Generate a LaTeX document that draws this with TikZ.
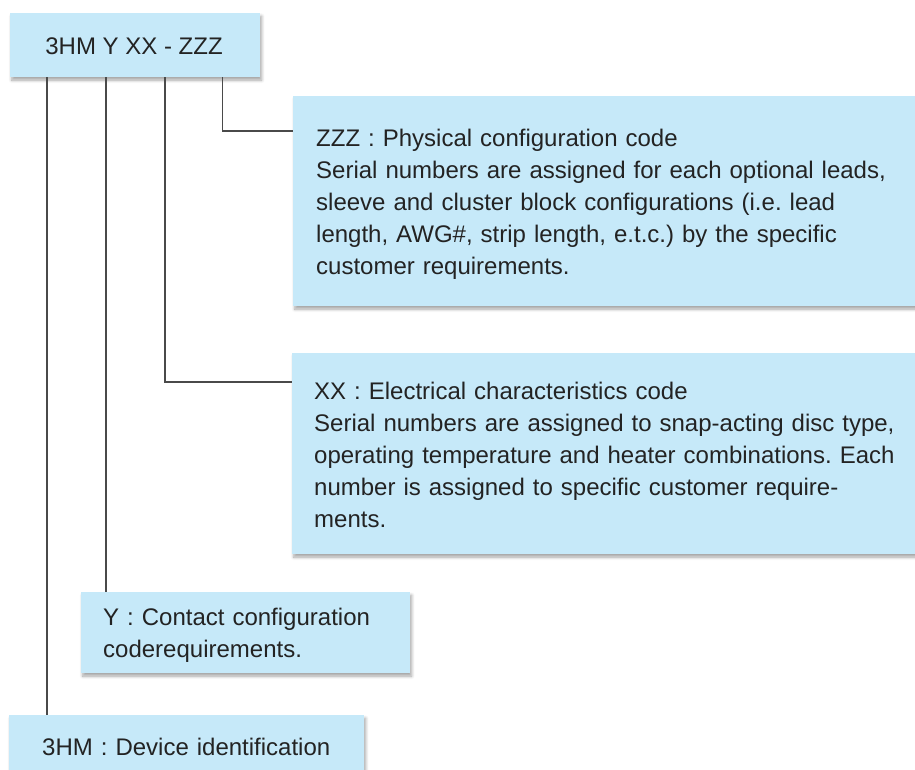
\documentclass[tikz,border=0pt]{standalone}
\usepackage{fontspec}
\setmainfont{Liberation Sans}
\usetikzlibrary{shadows.blur}
\definecolor{boxblue}{HTML}{C6E9F9}
\definecolor{linegrey}{HTML}{4A4A4A}
\definecolor{txt}{HTML}{232323}
\frenchspacing
\begin{document}
\begin{tikzpicture}[x=1pt,y=-1pt,
  codebox/.style={draw=none,fill=boxblue,rectangle,inner sep=0pt,anchor=north west,
    blur shadow={shadow xshift=1.5pt,shadow yshift=-3pt,shadow blur radius=3pt,shadow blur steps=6,shadow opacity=35}},
  codetext/.style={inner sep=0pt,anchor=base west,text=txt,align=left,text width=620pt,
    font=\fontsize{24}{32}\selectfont},
  conn/.style={draw=linegrey,line width=1.3pt}]
\useasboundingbox (0,0) rectangle (915,770);
% boxes
\node[codebox,minimum width=250pt,minimum height=64pt] (top) at (10,13) {};
\node[codebox,minimum width=650pt,minimum height=210pt] (zzz) at (293,96) {};
\node[codebox,minimum width=650pt,minimum height=201pt] (xx) at (292,353) {};
\node[codebox,minimum width=329pt,minimum height=81pt] (ybox) at (81,592) {};
\node[codebox,minimum width=355pt,minimum height=80pt] (dev) at (9,715) {};
% texts
\node[inner sep=0pt,anchor=base,text=txt,font=\fontsize{24}{32}\selectfont] (toptext) at (134,55) {3HM Y XX - ZZZ};
\node[codetext] (zzztext) at (316,147) {ZZZ : Physical configuration code\\
Serial numbers are assigned for each optional leads,\\
sleeve and cluster block configurations (i.e. lead\\
length, AWG\#, strip length, e.t.c.) by the specific\\
customer requirements.};
\node[codetext] (xxtext) at (314,399) {XX : Electrical characteristics code\\
Serial numbers are assigned to snap-acting disc type,\\
operating temperature and heater combinations. Each\\
number is assigned to specific customer require-\\
ments.};
\node[codetext] (ytext) at (103,625) {Y : Contact configuration\\
coderequirements.};
\node[codetext] (devtext) at (42,755) {3HM : Device identification};
% connector columns
\coordinate (c1) at (47,0);
\coordinate (c2) at (106,0);
\coordinate (c3) at (165,0);
\coordinate (c4) at (222.5,0);
\coordinate (h3) at (0,382);
\coordinate (h4) at (0,131);
\draw[conn] (top.south -| c1) -- (dev.north -| c1);
\draw[conn] (top.south -| c2) -- (ybox.north -| c2);
\draw[conn] (top.south -| c3) |- (xx.west |- h3);
\draw[conn] (top.south -| c4) |- (zzz.west |- h4);
\end{tikzpicture}
\end{document}
